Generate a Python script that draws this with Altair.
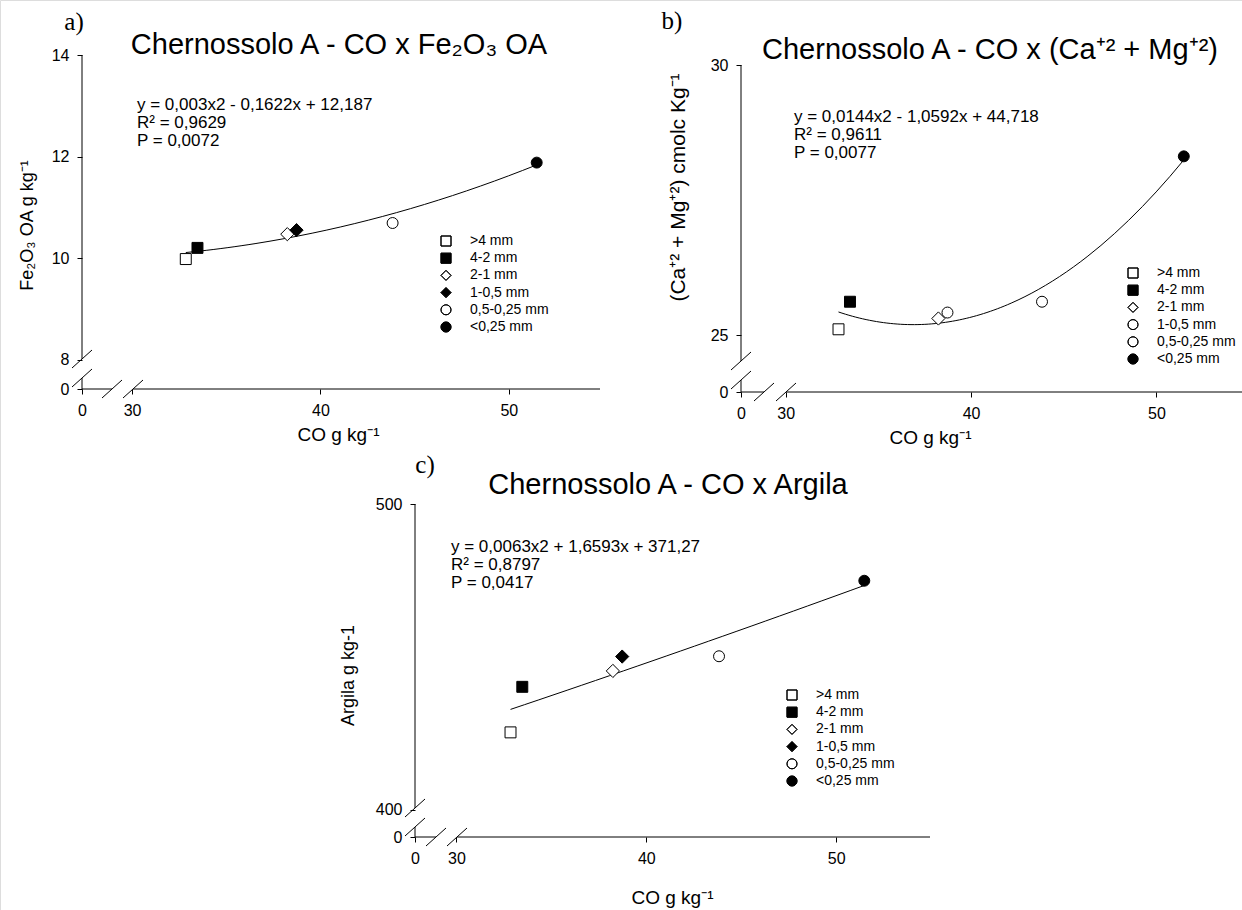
import altair as alt
import pandas as pd

W, H = 1242, 910
FONT = "Liberation Sans"
SERIF = "Liberation Serif"

# ---------------- data ----------------
categories = [">4 mm", "4-2 mm", "2-1 mm", "1-0,5 mm", "0,5-0,25 mm", "<0,25 mm"]
co = [32.85, 33.47, 38.24, 38.73, 43.83, 51.48]
fe2o3 = [9.98, 10.20, 10.47, 10.55, 10.69, 11.88]
ca_mg = [25.11, 25.62, 25.31, 25.42, 25.62, 28.31]
argila = [425.3, 440.2, 445.4, 450.1, 450.2, 474.9]

x_ticks = [30, 40, 50]
fe_ticks = [8, 10, 12, 14]
camg_ticks = [25, 30]
arg_ticks = [400, 500]

titles = ["Chernossolo A - CO x Fe₂O₃ OA",
          "Chernossolo A - CO x (Ca⁺² + Mg⁺²)",
          "Chernossolo A - CO x Argila"]
letters = ["a)", "b)", "c)"]
equations = [
    "y = 0,003x2 - 0,1622x + 12,187\nR² = 0,9629\nP = 0,0072",
    "y = 0,0144x2 - 1,0592x + 44,718\nR² = 0,9611\nP = 0,0077",
    "y = 0,0063x2 + 1,6593x + 371,27\nR² = 0,8797\nP = 0,0417",
]
x_title = "CO g kg⁻¹"
y_titles = ["Fe₂O₃ OA g kg⁻¹", "(Ca⁺² + Mg⁺²) cmolc Kg⁻¹", "Argila g kg-1"]

# ---------------- styles ----------------
shapes_ac = ["square", "square", "diamond", "diamond", "circle", "circle"]
fills_ac = ["white", "black", "white", "black", "white", "black"]
shapes_b = ["square", "square", "diamond", "circle", "circle", "circle"]
fills_b = ["white", "black", "white", "white", "white", "black"]

# ---------------- layout (pixels) ----------------
panels = [
    dict(values=fe2o3, yticks=fe_ticks,
         xdom=[27.34, 54.84], xr=[82, 600], ydom=[7.42, 14], yr=[389, 55],
         shapes=shapes_ac, fills=fills_ac, ytfs=18,
         title_xy=(339, 45), letter_xy=(74, 22), eq_xy=(137, 105),
         legend_xy=(439, 234), xtitle_xy=(338, 45), ytitle_xy=(-55, 225),
         yslash=[359, 378], xslash=[112, 133]),
    dict(values=ca_mg, yticks=camg_ticks,
         xdom=[27.59, 54.62], xr=[741, 1242], ydom=[23.95, 30], yr=[392, 65],
         shapes=shapes_b, fills=fills_b, ytfs=21,
         title_xy=(990, 50), letter_xy=(672, 21), eq_xy=(794, 117),
         legend_xy=(1126, 266), xtitle_xy=(930, 45), ytitle_xy=(-63, 187),
         yslash=[361, 380], xslash=[764, 786]),
    dict(values=argila, yticks=arg_ticks,
         xdom=[27.82, 54.94], xr=[415, 930], ydom=[391.08, 500], yr=[837, 504],
         shapes=shapes_ac, fills=fills_ac, ytfs=18,
         title_xy=(668, 485), letter_xy=(425, 465), eq_xy=(451, 547),
         legend_xy=(785, 688), xtitle_xy=(672, 60), ytitle_xy=(-67, 675),
         yslash=[808, 827], xslash=[436, 457]),
]

one = alt.Data(values=[{}])


def text_layer(x, y, txt, size, font=FONT, align="left", baseline="middle", line_height=None):
    kw = dict(text=txt, font=font, fontSize=size, align=align, baseline=baseline, color="black")
    if "\n" in txt:
        kw["lineBreak"] = "\n"
        kw["lineHeight"] = line_height
    return alt.Chart(one).mark_text(**kw).encode(x=alt.value(x), y=alt.value(y))


def rule_layer(x1, y1, x2, y2):
    return alt.Chart(one).mark_rule(color="black", strokeWidth=1).encode(
        x=alt.value(x1), y=alt.value(y1), x2=alt.value(x2), y2=alt.value(y2))


def legend_for(p, outline=False):
    kw = dict(orient="none", legendX=p["legend_xy"][0], legendY=p["legend_xy"][1], title=None,
              labelFont=FONT, labelFontSize=14, labelColor="black",
              symbolSize=100, symbolStrokeWidth=1, symbolOpacity=1,
              rowPadding=3.2, labelOffset=17, padding=0)
    if outline:
        kw.update(symbolFillColor="transparent", symbolStrokeColor="black", labelOpacity=0)
    return alt.Legend(**kw)


layers = []
for i, p in enumerate(panels):
    df = pd.DataFrame({"cat": categories, "co": co, "val": p["values"]})
    x0, x1 = p["xr"]
    yb, yt = p["yr"]
    xs = alt.Scale(domain=p["xdom"], range=p["xr"], nice=False, zero=False)
    ys = alt.Scale(domain=p["ydom"], range=p["yr"], nice=False, zero=False)
    shape_scale = alt.Scale(domain=categories, range=p["shapes"])
    fill_scale = alt.Scale(domain=categories, range=p["fills"])
    xaxis = alt.Axis(
        orient="bottom", offset=yb - H, values=[p["xdom"][0]] + x_ticks,
        labelExpr=f"datum.value < {x_ticks[0] - 1} ? '0' : format(datum.value, 'd')",
        domain=False, grid=False, tickSize=5, tickColor="black", labelColor="black",
        labelFont=FONT, labelFontSize=16, labelPadding=8, labelFlush=False, labelOverlap=False,
        title=x_title, titleFont=FONT, titleFontSize=19, titleFontWeight="normal",
        titleColor="black", titleX=p["xtitle_xy"][0], titleY=p["xtitle_xy"][1],
        titleAlign="center", titleBaseline="middle")
    yaxis = alt.Axis(
        orient="left", offset=-x0, values=[p["ydom"][0]] + p["yticks"],
        labelExpr=f"datum.value < {p['yticks'][0] - 0.3} ? '0' : format(datum.value, 'd')",
        domain=False, grid=False, tickSize=5, tickColor="black", labelColor="black",
        labelFont=FONT, labelFontSize=16, labelPadding=8, labelFlush=False, labelOverlap=False,
        title=y_titles[i], titleFont=FONT, titleFontSize=p["ytfs"], titleFontWeight="normal",
        titleColor="black", titleX=p["ytitle_xy"][0], titleY=p["ytitle_xy"][1],
        titleAlign="center", titleBaseline="middle", titleAngle=270)
    fit = alt.Chart(df).transform_regression("co", "val", method="poly", order=2).mark_line(
        color="black", strokeWidth=1).encode(
        x=alt.X("co:Q", scale=xs, axis=None),
        y=alt.Y("val:Q", scale=ys, axis=None))
    pts = alt.Chart(df).mark_point(filled=False, color="black", strokeWidth=1, opacity=1, size=120).encode(
        x=alt.X("co:Q", scale=xs, axis=xaxis),
        y=alt.Y("val:Q", scale=ys, axis=yaxis),
        shape=alt.Shape("cat:N", scale=shape_scale, legend=legend_for(p)),
        fill=alt.Fill("cat:N", scale=fill_scale, legend=legend_for(p)),
    )
    # diamonds drawn a little larger, as in the original
    diamond_cats = [c for c, s in zip(categories, p["shapes"]) if s == "diamond"]
    dia = alt.Chart(df).transform_filter(
        alt.FieldOneOfPredicate(field="cat", oneOf=diamond_cats)
    ).mark_point(filled=False, color="black", strokeWidth=1, opacity=1, size=175).encode(
        x=alt.X("co:Q", scale=xs, axis=None),
        y=alt.Y("val:Q", scale=ys, axis=None),
        shape=alt.Shape("cat:N", scale=shape_scale, legend=None),
        fill=alt.Fill("cat:N", scale=fill_scale, legend=None),
    )
    # outline-only legend symbols laid over the filled ones (open symbols need a black edge)
    outline = alt.Chart(df).mark_point(filled=False, color="black", strokeWidth=1, opacity=0, size=120).encode(
        x=alt.X("co:Q", scale=xs, axis=None),
        y=alt.Y("val:Q", scale=ys, axis=None),
        shape=alt.Shape("cat:N", scale=shape_scale, legend=legend_for(p, outline=True)),
    )
    layers += [fit, pts, dia, outline]

    # broken axes
    ys1, ys2 = p["yslash"]
    xs1, xs2 = p["xslash"]
    layers += [
        rule_layer(x0, yt, x0, ys1), rule_layer(x0, ys2, x0, yb),
        rule_layer(x0, yb, xs1, yb), rule_layer(xs2, yb, x1, yb),
    ]
    for cy in (ys1, ys2):
        layers.append(rule_layer(x0 - 10, cy + 9, x0 + 10, cy - 9))
    for cx in (xs1, xs2):
        layers.append(rule_layer(cx - 10, yb + 9, cx + 10, yb - 9))

    # texts
    layers.append(text_layer(p["title_xy"][0], p["title_xy"][1], titles[i], 29, align="center"))
    layers.append(text_layer(p["letter_xy"][0], p["letter_xy"][1], letters[i], 25, font=SERIF, align="center"))
    layers.append(text_layer(p["eq_xy"][0], p["eq_xy"][1], equations[i], 17, line_height=18, baseline="middle"))

chart = alt.layer(*layers).resolve_scale(
    x="independent", y="independent", shape="independent", fill="independent"
).properties(
    width=W, height=H, autosize=alt.AutoSizeParams(type="none"), padding=0
).configure_view(stroke=None).configure(background="white")

chart.save("out.html", embed_options={"renderer": "svg", "actions": False})
